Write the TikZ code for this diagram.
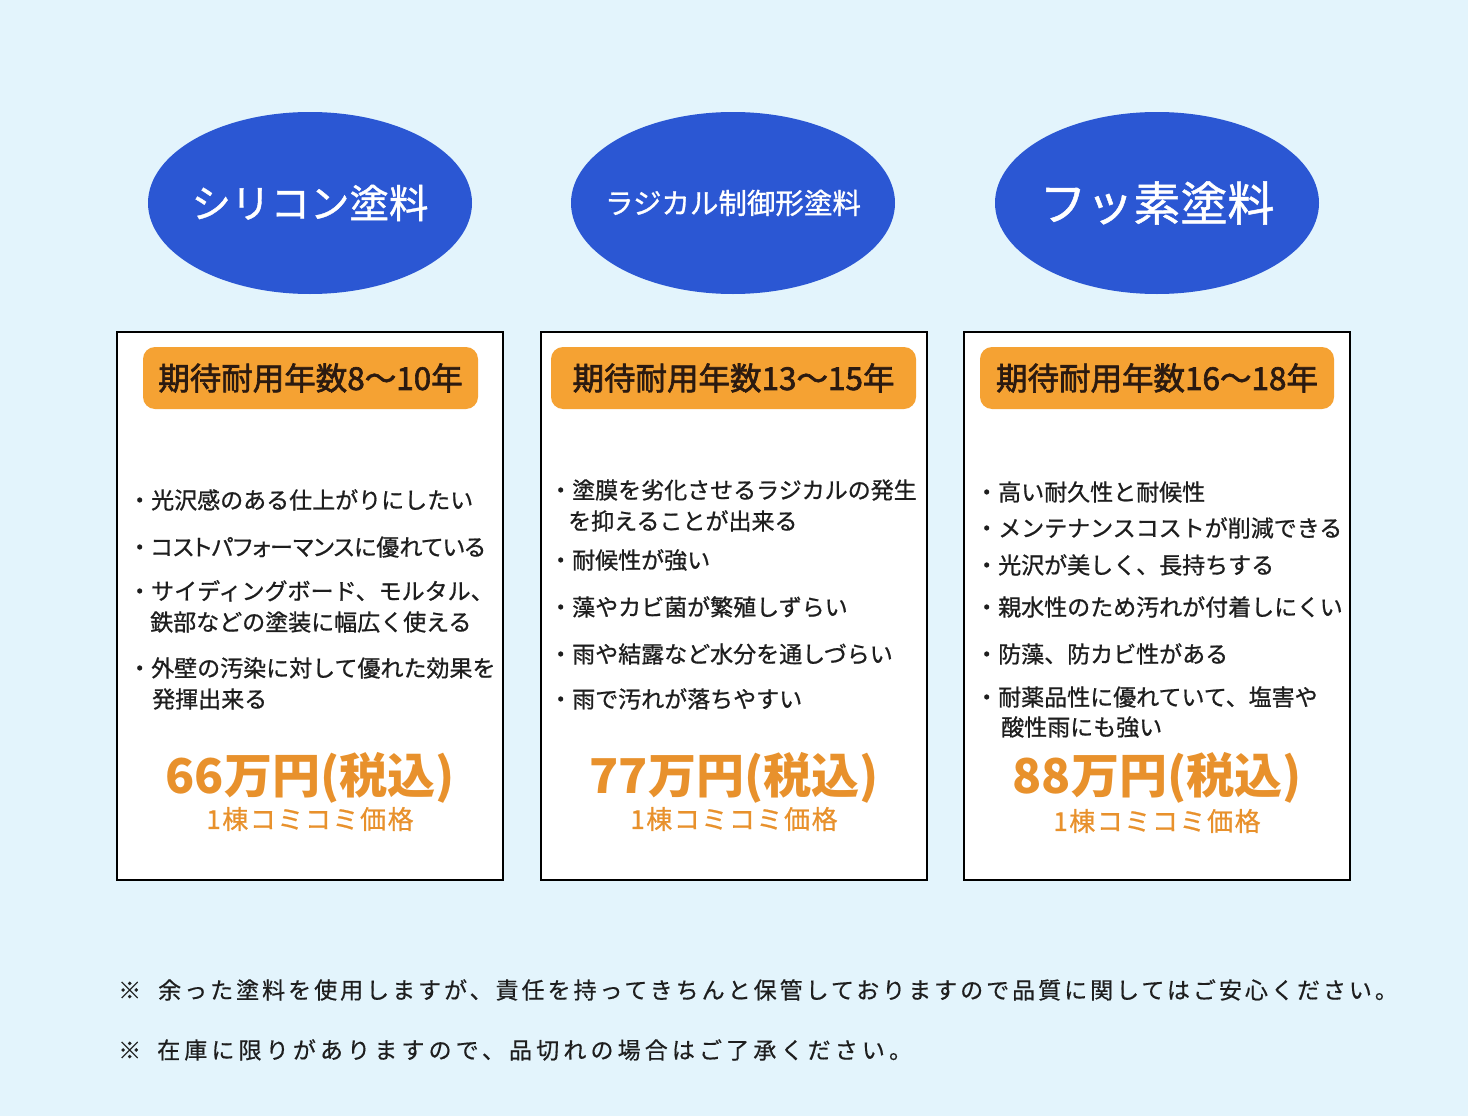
\documentclass[tikz,border=0pt]{standalone}
\usepackage{fontspec}
\usetikzlibrary{shapes.geometric}
\newfontfamily\jp{Noto Sans CJK JP}
\newfontfamily\jpm[FakeBold=0.8]{Noto Sans CJK JP}
\newfontfamily\jpmp[FakeBold=0.8,RawFeature=+palt]{Noto Sans CJK JP}
\newfontfamily\jpbadge[FakeBold=2]{Noto Sans CJK JP}
\newfontfamily\jpoval[FakeBold=1]{Noto Sans CJK JP}
\newfontfamily\jpfoota[LetterSpace=13,FakeBold=0.5]{Noto Sans CJK JP}
\newfontfamily\jpfootb[LetterSpace=18,FakeBold=0.5]{Noto Sans CJK JP}
\newfontfamily\jpsub[LetterSpace=6,FakeBold=0.8]{Noto Sans CJK JP}
\definecolor{bg}{HTML}{E3F4FC}
\definecolor{ovalblue}{HTML}{2B57D3}
\definecolor{badgeor}{HTML}{F5A233}
\definecolor{badgetxt}{HTML}{2B1A10}
\definecolor{priceor}{HTML}{E8912C}
\definecolor{txt}{HTML}{1E1E1E}
\begin{document}
\begin{tikzpicture}[x=1pt,y=-1pt,
  oval/.style={ellipse, fill=ovalblue, minimum width=324pt, minimum height=182pt, inner sep=0pt},
  ovaltext/.style={inner sep=0pt, text=white},
  card/.style={draw=black, line width=2pt, fill=white, minimum width=386pt, minimum height=548pt, inner sep=0pt},
  badge/.style={fill=badgeor, rounded corners=12pt, inner sep=0pt, minimum height=62pt, text=badgetxt,
    font=\jpbadge\fontsize{31.5}{31.5}\selectfont, text height=27.7pt, text depth=3.8pt},
  item/.style={anchor=west, inner sep=0pt, text=txt, font=\jpm\fontsize{23}{23}\selectfont, text height=20.2pt, text depth=2.8pt},
  price/.style={inner sep=0pt, text=priceor, font=\jp\bfseries\fontsize{48}{48}\selectfont, text height=42.2pt, text depth=5.8pt},
  sub/.style={inner sep=0pt, text=priceor, font=\jpsub\fontsize{26}{26}\selectfont, text height=22.9pt, text depth=3.1pt},
  foot/.style={anchor=west, inner sep=0pt, text=txt, text height=20.2pt, text depth=2.8pt}
]
\useasboundingbox (0,0) rectangle (1468,1116);
\fill[bg] (0,0) rectangle (1468,1116);

% ovals
\node[oval] (o1) at (310,203) {};
\node[oval] (o2) at (733,203) {};
\node[oval] (o3) at (1157,203) {};
\node[ovaltext, font=\jpoval\fontsize{39.5}{39.5}\selectfont] (t1) at (o1) {シリコン塗料};
\node[ovaltext, font=\jpoval\fontsize{28.5}{28.5}\selectfont] (t2) at (o2) {ラジカル制御形塗料};
\node[ovaltext, font=\jpoval\fontsize{47}{47}\selectfont] (t3) at (o3) {フッ素塗料};

% cards
\node[card] (c1) at (310,606) {};
\node[card] (c2) at (734,606) {};
\node[card] (c3) at (1157,606) {};

% badges
\node[badge, minimum width=335pt] (b1) at (310.5,378) {期待耐用年数8〜10年};
\node[badge, minimum width=365pt] (b2) at (733.5,378) {期待耐用年数13〜15年};
\node[badge, minimum width=354pt] (b3) at (1157,378) {期待耐用年数16〜18年};

% card 1 items
\node[item] (a11) at (128,500) {・光沢感のある仕上がりにしたい};
\node[item] (a12) at (128,547) {・{\jpmp コストパフォーマンスに優れている}};
\node[item] (a13) at (128,591) {・サイディングボード、モルタル、};
\node[item] (a14) at (150,622) {鉄部などの塗装に幅広く使える};
\node[item] (a15) at (128,668) {・外壁の汚染に対して優れた効果を};
\node[item] (a16) at (152,699) {発揮出来る};

% card 2 items
\node[item] (a21) at (549,490) {・塗膜を劣化させるラジカルの発生};
\node[item] (a22) at (568,521) {を抑えることが出来る};
\node[item] (a23) at (549,560) {・耐候性が強い};
\node[item] (a24) at (549,607) {・藻やカビ菌が繁殖しずらい};
\node[item] (a25) at (549,654) {・雨や結露など水分を通しづらい};
\node[item] (a26) at (549,699) {・雨で汚れが落ちやすい};

% card 3 items
\node[item] (a31) at (975,492) {・高い耐久性と耐候性};
\node[item] (a32) at (975,528) {・メンテナンスコストが削減できる};
\node[item] (a33) at (975,565) {・光沢が美しく、長持ちする};
\node[item] (a34) at (975,607) {・親水性のため汚れが付着しにくい};
\node[item] (a35) at (975,654) {・防藻、防カビ性がある};
\node[item] (a36) at (975,697) {・耐薬品性に優れていて、塩害や};
\node[item] (a37) at (1001,727) {酸性雨にも強い};

% prices
\node[price] (p1) at (310,775) {66万円(税込)};
\node[price] (p2) at (734,775) {77万円(税込)};
\node[price] (p3) at (1157,775) {88万円(税込)};
\node[sub] (s1) at (310,819) {1棟コミコミ価格};
\node[sub] (s2) at (734,819) {1棟コミコミ価格};
\node[sub] (s3) at (1157,821) {1棟コミコミ価格};

% footnotes
\node[foot, font=\jpfoota\fontsize{23}{23}\selectfont] (f1) at (118,990) {※\hspace{17pt}余った塗料を使用しますが、責任を持ってきちんと保管しておりますので品質に関してはご安心ください。};
\node[foot, font=\jpfootb\fontsize{23}{23}\selectfont] (f2) at (118,1050) {※\hspace{16pt}在庫に限りがありますので、品切れの場合はご了承ください。};
\end{tikzpicture}
\end{document}
